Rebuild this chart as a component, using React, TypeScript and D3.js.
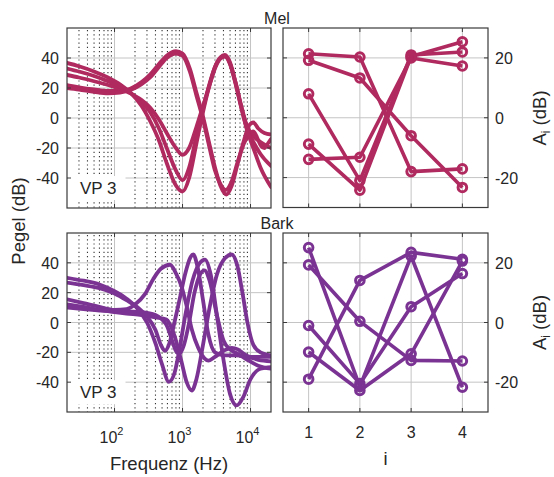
import React from 'react';
import * as d3 from 'd3';

const melColor = '#B0295F';
const barkColor = '#7B3393';
const gridColor = '#c4c4c4';
const frameColor = '#3a3a3a';
const textColor = '#262626';
const FONT = '"Liberation Sans", Arial, Helvetica, sans-serif';

const yTicksLeft = [-40, -20, 0, 20, 40];
const yTicksRight = [-20, 0, 20];
const xTicksLeft = [100, 1000, 10000];
const xTickExp = ['2', '3', '4'];
const iTicks = [1, 2, 3, 4];

// Mel: level curves [frequency Hz, level dB]
const melCurveP1 = [[20,22],[30,20.5],[50,19],[80,18],[120,18],[170,19.5],[250,24],[333,29],[450,36],[585,41.5],[800,44.5],[1000,43],[1280,33],[1600,17],[2000,1],[2500,-18],[3000,-33],[3600,-45],[4400,-51],[5300,-45],[6500,-30],[8000,-15],[9500,-5],[11000,-3],[13000,-7],[16000,-10],[20000,-11]];
const melCurveP2 = [[20,20],[30,19],[50,17.5],[80,16.5],[120,17],[170,18.5],[250,22.5],[333,27],[450,34],[585,40],[800,43],[1000,41.5],[1280,31],[1600,15],[2000,-1],[2500,-20],[3000,-35],[3600,-44],[4300,-48],[5200,-43],[6500,-29],[8000,-17],[9500,-11],[11000,-9],[12500,-13],[14000,-18],[16000,-20],[18000,-17],[20000,-14]];
const melCurveD1 = [[20,28.7],[30,27],[50,24.5],[80,22],[120,19.5],[170,16.5],[250,12],[333,7],[450,-1],[585,-10],[800,-20],[1000,-24.5],[1250,-20],[1600,-6],[2000,8],[2500,22],[3000,33],[3600,39.5],[4200,41],[5000,36],[6000,24],[7500,6],[9000,-6],[11000,-12],[14000,-16],[20000,-20]];
const melCurveD2 = [[20,33],[30,31],[50,28],[80,24.5],[120,21],[170,17],[250,10.5],[333,4],[450,-7],[585,-20],[800,-35],[1000,-41.5],[1250,-33],[1600,-12],[2000,6],[2500,23],[3000,34],[3600,40],[4200,41.5],[5000,36],[6000,23],[7500,5],[9000,-8],[11000,-16],[14000,-24],[20000,-32]];
const melCurveD3 = [[20,36.7],[30,34.5],[50,31],[80,27],[120,22.5],[170,17],[250,8],[333,-2],[450,-15],[585,-30],[800,-45],[1000,-49],[1250,-40],[1600,-17],[2000,4],[2500,22],[3000,34],[3600,40.5],[4200,42],[5000,37],[6000,24],[7500,5],[9000,-9],[11000,-20],[14000,-33],[20000,-46]];

// Bark: level curves [frequency Hz, level dB]
const barkCurve1 = [[20,30],[35,28],[60,25.5],[100,21],[150,16],[220,9],[300,0],[400,-14],[500,-28],[630,-39.8],[760,-34],[900,-18],[1100,5],[1400,28],[1800,40],[2140,42.2],[2600,32],[3200,5],[4000,-25],[5000,-48],[6250,-55.6],[7800,-50],[10000,-38],[14000,-31],[20000,-30]];
const barkCurve2 = [[20,26.7],[35,25],[60,23],[100,19.5],[150,15],[220,10],[300,4],[400,-5],[480,-15],[551,-19],[640,-14],[760,0],[900,15],[1100,33],[1300,43.5],[1440,45.6],[1650,38],[2000,15],[2400,-8],[3000,-20],[4000,-22],[6000,-22],[9000,-23],[13000,-25],[20000,-26]];
const barkCurve3 = [[20,15.5],[35,13],[60,10.5],[100,8.5],[150,9],[200,12],[280,19],[370,29],[480,36],[654,38.7],[800,33],[970,24],[1150,11],[1370,-4.7],[1700,-17],[2100,-24],[2400,-25.5],[3000,-23],[4000,-19],[5300,-17],[6500,-18],[8000,-21],[10000,-23],[14000,-23],[20000,-23]];
const barkCurve4 = [[20,12.2],[35,10.5],[60,8.5],[100,7],[150,6],[250,5],[400,3.5],[580,2],[750,-8],[950,-25],[1150,-40],[1370,-45.6],[1600,-38],[2000,-15],[2500,10],[3200,32],[4200,43],[5280,45.6],[6400,38],[7600,20],[9000,0],[11000,-15],[14000,-20],[20000,-22]];
const barkCurve5 = [[20,10],[35,9],[60,8],[100,7.5],[150,7.5],[250,7],[400,5],[500,2],[600,-3],[700,-12],[800,-19],[900,-21],[1050,-15],[1250,0],[1500,20],[1800,32],[2100,35],[2500,28],[3200,5],[4000,-12],[5000,-18],[6500,-21],[9000,-25],[13000,-29],[20000,-31]];

// A_i values (i = 1..4)
const melLine1 = [21.4, 20.3, -18, -17.1];
const melLine2 = [19.2, 13.3, -6, -23.3];
const melLine3 = [8, -21, 21, 22];
const melLine4 = [-8.8, -24.2, 20.5, 25.4];
const melLine5 = [-13.9, -13.2, 20, 17.3];

const barkLine1 = [25.1, -21.5, 22.2, -21.7];
const barkLine2 = [19.3, 0.4, -12.7, -12.9];
const barkLine3 = [-1, -20.5, 5.3, 16.4];
const barkLine4 = [-9.9, -22.8, -10.5, 20.6];
const barkLine5 = [-19, 14.1, 23.5, 21.2];

const melCurves = [melCurveP1, melCurveP2, melCurveD1, melCurveD2, melCurveD3];
const barkCurves = [barkCurve1, barkCurve2, barkCurve3, barkCurve4, barkCurve5];
const melLines = [melLine1, melLine2, melLine3, melLine4, melLine5];
const barkLines = [barkLine1, barkLine2, barkLine3, barkLine4, barkLine5];

type Box = { x0: number; x1: number; y0: number; y1: number };

function LeftPanel({ box, curves, color, id }: { box: Box; curves: number[][][]; color: string; id: string }) {
  const x = d3.scaleLog().domain([20, 20000]).range([box.x0, box.x1]);
  const y = d3.scaleLinear().domain([-60, 60]).range([box.y1, box.y0]);
  const minor: number[] = [];
  [10, 100, 1000, 10000].forEach((d) => {
    for (let k = 2; k <= 9; k++) {
      const f = k * d;
      if (f > 20 && f < 20000) minor.push(f);
    }
  });
  const line = d3
    .line<number[]>()
    .x((d) => x(d[0]))
    .y((d) => y(d[1]))
    .curve(d3.curveMonotoneX);
  const boxY = y(-40) - 2;
  return (
    <g>
      <defs>
        <clipPath id={id}>
          <rect x={box.x0} y={box.y0} width={box.x1 - box.x0} height={box.y1 - box.y0} />
        </clipPath>
      </defs>
      <rect x={box.x0} y={box.y0} width={box.x1 - box.x0} height={box.y1 - box.y0} fill="white" />
      {yTicksLeft.map((t) => (
        <line key={'gy' + t} x1={box.x0} x2={box.x1} y1={y(t)} y2={y(t)} stroke={gridColor} strokeWidth={1} />
      ))}
      {xTicksLeft.map((t) => (
        <line key={'gx' + t} x1={x(t)} x2={x(t)} y1={box.y0} y2={box.y1} stroke={gridColor} strokeWidth={1} />
      ))}
      {minor.map((f) => (
        <line key={'m' + f} x1={x(f)} x2={x(f)} y1={box.y0 + 2} y2={box.y1} stroke="#333" strokeWidth={1.1} strokeDasharray="1.2 3" />
      ))}
      <rect x={box.x0 + 0.5} y={boxY} width={58} height={24} fill="white" />
      <text x={box.x0 + 13} y={boxY + 18} fontSize={17} fill={textColor} fontFamily={FONT}>VP 3</text>
      <g clipPath={`url(#${id})`}>
        {curves.map((c, i) => (
          <path key={i} d={line(c) || ''} fill="none" stroke={color} strokeWidth={3.8} strokeLinejoin="round" strokeLinecap="round" />
        ))}
      </g>
      {yTicksLeft.map((t) => (
        <g key={'ty' + t}>
          <line x1={box.x0} x2={box.x0 + 4} y1={y(t)} y2={y(t)} stroke={frameColor} />
          <line x1={box.x1} x2={box.x1 - 4} y1={y(t)} y2={y(t)} stroke={frameColor} />
          <text x={box.x0 - 8} y={y(t) + 6} textAnchor="end" fontSize={16} fill={textColor} fontFamily={FONT}>{t}</text>
        </g>
      ))}
      {xTicksLeft.map((t) => (
        <g key={'tx' + t}>
          <line x1={x(t)} x2={x(t)} y1={box.y1} y2={box.y1 - 4} stroke={frameColor} />
          <line x1={x(t)} x2={x(t)} y1={box.y0} y2={box.y0 + 4} stroke={frameColor} />
        </g>
      ))}
      <rect x={box.x0} y={box.y0} width={box.x1 - box.x0} height={box.y1 - box.y0} fill="none" stroke={frameColor} strokeWidth={1.2} />
    </g>
  );
}

function RightPanel({ box, lines, color }: { box: Box; lines: number[][]; color: string }) {
  const x = d3.scaleLinear().domain([0.5, 4.5]).range([box.x0, box.x1]);
  const y = d3.scaleLinear().domain([-30, 30]).range([box.y1, box.y0]);
  const line = d3
    .line<number>()
    .x((_, i) => x(iTicks[i]))
    .y((d) => y(d));
  return (
    <g>
      <rect x={box.x0} y={box.y0} width={box.x1 - box.x0} height={box.y1 - box.y0} fill="white" />
      {yTicksRight.map((t) => (
        <line key={'gy' + t} x1={box.x0} x2={box.x1} y1={y(t)} y2={y(t)} stroke={gridColor} strokeWidth={1} />
      ))}
      {iTicks.map((t) => (
        <line key={'gx' + t} x1={x(t)} x2={x(t)} y1={box.y0} y2={box.y1} stroke={gridColor} strokeWidth={1} />
      ))}
      {lines.map((l, k) => (
        <path key={'l' + k} d={line(l) || ''} fill="none" stroke={color} strokeWidth={3.6} strokeLinejoin="round" />
      ))}
      {lines.map((l, k) =>
        l.map((v, i) => (
          <circle key={'c' + k + '-' + i} cx={x(iTicks[i])} cy={y(v)} r={4.3} fill="none" stroke={color} strokeWidth={3} />
        ))
      )}
      {yTicksRight.map((t) => (
        <g key={'ty' + t}>
          <line x1={box.x0} x2={box.x0 + 4} y1={y(t)} y2={y(t)} stroke={frameColor} />
          <line x1={box.x1} x2={box.x1 - 4} y1={y(t)} y2={y(t)} stroke={frameColor} />
          <text x={box.x1 + 7} y={y(t) + 6} textAnchor="start" fontSize={16} fill={textColor} fontFamily={FONT}>{t}</text>
        </g>
      ))}
      {iTicks.map((t) => (
        <g key={'tx' + t}>
          <line x1={x(t)} x2={x(t)} y1={box.y1} y2={box.y1 - 4} stroke={frameColor} />
          <line x1={x(t)} x2={x(t)} y1={box.y0} y2={box.y0 + 4} stroke={frameColor} />
        </g>
      ))}
      <rect x={box.x0} y={box.y0} width={box.x1 - box.x0} height={box.y1 - box.y0} fill="none" stroke={frameColor} strokeWidth={1.2} />
    </g>
  );
}

export default function App() {
  const TL: Box = { x0: 67, x1: 271, y0: 28, y1: 208 };
  const TR: Box = { x0: 283, x1: 488, y0: 28, y1: 207.5 };
  const BL: Box = { x0: 67, x1: 271, y0: 233, y1: 412 };
  const BR: Box = { x0: 283, x1: 488, y0: 233, y1: 412 };
  const xl = d3.scaleLog().domain([20, 20000]).range([BL.x0, BL.x1]);
  const xr = d3.scaleLinear().domain([0.5, 4.5]).range([BR.x0, BR.x1]);
  return (
    <svg width={554} height={477} style={{ position: 'absolute', left: 0, top: 0, background: 'white' }} fontFamily={FONT}>
      <rect x={0} y={0} width={554} height={477} fill="white" />
      <LeftPanel box={TL} curves={melCurves} color={melColor} id="clipTL" />
      <RightPanel box={TR} lines={melLines} color={melColor} />
      <LeftPanel box={BL} curves={barkCurves} color={barkColor} id="clipBL" />
      <RightPanel box={BR} lines={barkLines} color={barkColor} />

      <text x={277} y={23.5} textAnchor="middle" fontSize={16} fill={textColor}>Mel</text>
      <text x={277} y={228.5} textAnchor="middle" fontSize={16} fill={textColor}>Bark</text>

      {xTicksLeft.map((t, i) => (
        <text key={'xl' + t} x={xl(t) - 3} y={443} textAnchor="middle" fontSize={16} fill={textColor}>
          10<tspan dy={-8} fontSize={11}>{xTickExp[i]}</tspan>
        </text>
      ))}
      {iTicks.map((t) => (
        <text key={'xr' + t} x={xr(t)} y={437.5} textAnchor="middle" fontSize={16} fill={textColor}>{t}</text>
      ))}

      <text x={169} y={470} textAnchor="middle" fontSize={18.5} fill={textColor}>Frequenz (Hz)</text>
      <text x={385.5} y={465} textAnchor="middle" fontSize={18.5} fill={textColor}>i</text>
      <text transform="translate(25,221) rotate(-90)" textAnchor="middle" fontSize={18.5} fill={textColor}>Pegel (dB)</text>
      {[118, 322.5].map((cy) => (
        <text key={'ai' + cy} transform={`translate(546,${cy}) rotate(-90)`} textAnchor="middle" fontSize={18.5} fill={textColor}>
          A<tspan dy={4} fontSize={12}>i</tspan><tspan dy={-4}> (dB)</tspan>
        </text>
      ))}
    </svg>
  );
}
